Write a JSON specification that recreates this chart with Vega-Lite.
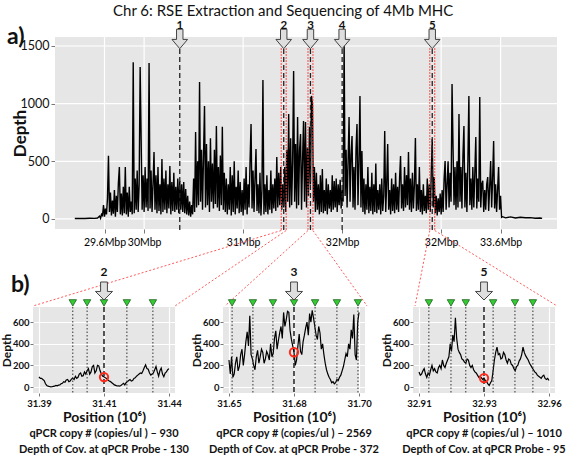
{
"$schema": "https://vega.github.io/schema/vega-lite/v6.json",
"background": "white",
"padding": {"left": 0, "top": 4, "right": 0, "bottom": 0},
"title": {"text": "Chr 6: RSE Extraction and Sequencing of 4Mb MHC", "font": "Lato", "fontSize": 15, "fontWeight": "normal", "color": "#111", "anchor": "middle", "offset": 1},
"config": {
  "view": {"fill": "#E6E6E6", "stroke": null},
  "axis": {"domain": false, "gridColor": "#FFFFFF", "gridWidth": 1.2, "tickColor": "#777", "labelColor": "#111", "titleColor": "#111", "labelFont": "Lato", "titleFont": "Lato", "labelFlush": false, "labelOverlap": false}
},
"spacing": -48,
"datasets": {
"top": [
{"pos":29.3,"depth":4},{"pos":29.35,"depth":5},{"pos":29.4,"depth":4},{"pos":29.45,"depth":6},{"pos":29.5,"depth":5},{"pos":29.53,"depth":8},{"pos":29.55,"depth":25},{"pos":29.56,"depth":6},{"pos":29.57,"depth":40},
{"pos":29.58,"depth":30},{"pos":29.59,"depth":120},{"pos":29.6,"depth":20},{"pos":29.61,"depth":90},{"pos":29.62,"depth":40},{"pos":29.63,"depth":180},{"pos":29.64,"depth":549},{"pos":29.65,"depth":60},{"pos":29.66,"depth":230},{"pos":29.67,"depth":30},
{"pos":29.68,"depth":160},{"pos":29.69,"depth":45},{"pos":29.7,"depth":250},{"pos":29.71,"depth":20},{"pos":29.72,"depth":200},{"pos":29.73,"depth":60},{"pos":29.74,"depth":310},{"pos":29.75,"depth":450},{"pos":29.76,"depth":40},{"pos":29.77,"depth":220},
{"pos":29.78,"depth":30},{"pos":29.79,"depth":280},{"pos":29.8,"depth":50},{"pos":29.81,"depth":450},{"pos":29.82,"depth":40},{"pos":29.83,"depth":230},{"pos":29.84,"depth":20},{"pos":29.85,"depth":280},{"pos":29.86,"depth":60},{"pos":29.87,"depth":150},
{"pos":29.88,"depth":40},{"pos":29.89,"depth":1360},{"pos":29.9,"depth":50},{"pos":29.91,"depth":350},{"pos":29.92,"depth":80},{"pos":29.93,"depth":420},{"pos":29.94,"depth":60},{"pos":29.95,"depth":300},{"pos":29.96,"depth":1318},{"pos":29.97,"depth":694},
{"pos":29.98,"depth":80},{"pos":29.99,"depth":380},{"pos":30.0,"depth":60},{"pos":30.01,"depth":450},{"pos":30.02,"depth":100},{"pos":30.03,"depth":350},{"pos":30.04,"depth":70},{"pos":30.05,"depth":1353},{"pos":30.06,"depth":90},{"pos":30.07,"depth":420},
{"pos":30.08,"depth":60},{"pos":30.09,"depth":300},{"pos":30.1,"depth":581},{"pos":30.11,"depth":80},{"pos":30.12,"depth":380},{"pos":30.13,"depth":50},{"pos":30.14,"depth":450},{"pos":30.15,"depth":70},{"pos":30.16,"depth":300},{"pos":30.17,"depth":40},
{"pos":30.18,"depth":520},{"pos":30.19,"depth":60},{"pos":30.2,"depth":350},{"pos":30.21,"depth":80},{"pos":30.22,"depth":420},{"pos":30.23,"depth":50},{"pos":30.24,"depth":300},{"pos":30.25,"depth":90},{"pos":30.26,"depth":460},{"pos":30.27,"depth":40},
{"pos":30.28,"depth":320},{"pos":30.29,"depth":70},{"pos":30.3,"depth":400},{"pos":30.31,"depth":60},{"pos":30.32,"depth":280},{"pos":30.33,"depth":80},{"pos":30.34,"depth":350},{"pos":30.35,"depth":50},{"pos":30.36,"depth":330},{"pos":30.37,"depth":80},
{"pos":30.38,"depth":300},{"pos":30.39,"depth":60},{"pos":30.4,"depth":320},{"pos":30.41,"depth":50},{"pos":30.42,"depth":260},{"pos":30.43,"depth":40},{"pos":30.44,"depth":200},{"pos":30.45,"depth":30},{"pos":30.46,"depth":150},{"pos":30.47,"depth":20},
{"pos":30.48,"depth":120},{"pos":30.49,"depth":40},{"pos":30.5,"depth":350},{"pos":30.51,"depth":60},{"pos":30.52,"depth":755},{"pos":30.53,"depth":100},{"pos":30.54,"depth":500},{"pos":30.55,"depth":120},{"pos":30.56,"depth":1188},{"pos":30.57,"depth":150},
{"pos":30.58,"depth":600},{"pos":30.59,"depth":80},{"pos":30.6,"depth":550},{"pos":30.61,"depth":980},{"pos":30.62,"depth":100},{"pos":30.63,"depth":650},{"pos":30.64,"depth":120},{"pos":30.65,"depth":500},{"pos":30.66,"depth":60},{"pos":30.67,"depth":700},
{"pos":30.68,"depth":150},{"pos":30.69,"depth":480},{"pos":30.7,"depth":90},{"pos":30.71,"depth":600},{"pos":30.72,"depth":130},{"pos":30.73,"depth":807},{"pos":30.74,"depth":100},{"pos":30.75,"depth":450},{"pos":30.76,"depth":70},{"pos":30.77,"depth":550},
{"pos":30.78,"depth":120},{"pos":30.79,"depth":800},{"pos":30.8,"depth":80},{"pos":30.81,"depth":400},{"pos":30.82,"depth":60},{"pos":30.83,"depth":350},{"pos":30.84,"depth":40},{"pos":30.85,"depth":300},{"pos":30.86,"depth":80},{"pos":30.87,"depth":450},
{"pos":30.88,"depth":30},{"pos":30.89,"depth":380},{"pos":30.9,"depth":60},{"pos":30.91,"depth":500},{"pos":30.92,"depth":40},{"pos":30.93,"depth":280},{"pos":30.94,"depth":90},{"pos":30.95,"depth":420},{"pos":30.96,"depth":50},{"pos":30.97,"depth":320},
{"pos":30.98,"depth":60},{"pos":30.99,"depth":250},{"pos":31.0,"depth":30},{"pos":31.01,"depth":350},{"pos":31.02,"depth":80},{"pos":31.03,"depth":450},{"pos":31.04,"depth":40},{"pos":31.05,"depth":300},{"pos":31.06,"depth":100},{"pos":31.07,"depth":500},
{"pos":31.08,"depth":824},{"pos":31.09,"depth":90},{"pos":31.1,"depth":420},{"pos":31.11,"depth":60},{"pos":31.12,"depth":350},{"pos":31.13,"depth":607},{"pos":31.14,"depth":70},{"pos":31.15,"depth":300},{"pos":31.16,"depth":50},{"pos":31.17,"depth":400},
{"pos":31.18,"depth":30},{"pos":31.19,"depth":250},{"pos":31.2,"depth":1205},{"pos":31.21,"depth":40},{"pos":31.22,"depth":300},{"pos":31.23,"depth":60},{"pos":31.24,"depth":380},{"pos":31.25,"depth":40},{"pos":31.26,"depth":250},{"pos":31.27,"depth":80},
{"pos":31.28,"depth":420},{"pos":31.29,"depth":50},{"pos":31.3,"depth":300},{"pos":31.31,"depth":90},{"pos":31.32,"depth":350},{"pos":31.33,"depth":70},{"pos":31.34,"depth":538},{"pos":31.35,"depth":100},{"pos":31.36,"depth":400},{"pos":31.37,"depth":120},
{"pos":31.38,"depth":450},{"pos":31.39,"depth":80},{"pos":31.4,"depth":300},{"pos":31.41,"depth":100},{"pos":31.42,"depth":450},{"pos":31.43,"depth":60},{"pos":31.44,"depth":600},{"pos":31.45,"depth":150},{"pos":31.46,"depth":910},{"pos":31.47,"depth":100},
{"pos":31.48,"depth":700},{"pos":31.49,"depth":120},{"pos":31.5,"depth":500},{"pos":31.51,"depth":1284},{"pos":31.52,"depth":150},{"pos":31.53,"depth":650},{"pos":31.54,"depth":90},{"pos":31.55,"depth":884},{"pos":31.56,"depth":120},{"pos":31.57,"depth":600},
{"pos":31.58,"depth":737},{"pos":31.59,"depth":80},{"pos":31.6,"depth":500},{"pos":31.61,"depth":850},{"pos":31.62,"depth":150},{"pos":31.63,"depth":841},{"pos":31.64,"depth":100},{"pos":31.65,"depth":620},{"pos":31.66,"depth":200},{"pos":31.67,"depth":800},
{"pos":31.68,"depth":300},{"pos":31.69,"depth":1067},{"pos":31.7,"depth":1000},{"pos":31.71,"depth":150},{"pos":31.72,"depth":450},{"pos":31.73,"depth":60},{"pos":31.74,"depth":400},{"pos":31.75,"depth":80},{"pos":31.76,"depth":300},{"pos":31.77,"depth":40},
{"pos":31.78,"depth":380},{"pos":31.79,"depth":60},{"pos":31.8,"depth":434},{"pos":31.81,"depth":50},{"pos":31.82,"depth":250},{"pos":31.83,"depth":70},{"pos":31.84,"depth":350},{"pos":31.85,"depth":40},{"pos":31.86,"depth":300},{"pos":31.87,"depth":90},
{"pos":31.88,"depth":250},{"pos":31.89,"depth":60},{"pos":31.9,"depth":380},{"pos":31.91,"depth":80},{"pos":31.92,"depth":330},{"pos":31.93,"depth":100},{"pos":31.94,"depth":350},{"pos":31.95,"depth":60},{"pos":31.96,"depth":300},{"pos":31.97,"depth":120},
{"pos":31.98,"depth":340},{"pos":31.99,"depth":90},{"pos":32.0,"depth":250},{"pos":32.01,"depth":150},{"pos":32.02,"depth":1544},{"pos":32.03,"depth":200},{"pos":32.04,"depth":600},{"pos":32.05,"depth":100},{"pos":32.06,"depth":500},{"pos":32.07,"depth":884},
{"pos":32.08,"depth":150},{"pos":32.09,"depth":550},{"pos":32.1,"depth":720},{"pos":32.11,"depth":100},{"pos":32.12,"depth":450},{"pos":32.13,"depth":80},{"pos":32.14,"depth":600},{"pos":32.15,"depth":824},{"pos":32.16,"depth":120},{"pos":32.17,"depth":500},
{"pos":32.18,"depth":1067},{"pos":32.19,"depth":100},{"pos":32.2,"depth":590},{"pos":32.21,"depth":60},{"pos":32.22,"depth":350},{"pos":32.23,"depth":40},{"pos":32.24,"depth":300},{"pos":32.25,"depth":80},{"pos":32.26,"depth":450},{"pos":32.27,"depth":50},
{"pos":32.28,"depth":280},{"pos":32.29,"depth":70},{"pos":32.3,"depth":400},{"pos":32.31,"depth":40},{"pos":32.32,"depth":300},{"pos":32.33,"depth":60},{"pos":32.34,"depth":480},{"pos":32.35,"depth":50},{"pos":32.36,"depth":250},{"pos":32.37,"depth":80},
{"pos":32.38,"depth":300},{"pos":32.39,"depth":40},{"pos":32.4,"depth":350},{"pos":32.41,"depth":70},{"pos":32.42,"depth":200},{"pos":32.43,"depth":763},{"pos":32.44,"depth":60},{"pos":32.45,"depth":300},{"pos":32.46,"depth":650},{"pos":32.47,"depth":80},
{"pos":32.48,"depth":250},{"pos":32.49,"depth":40},{"pos":32.5,"depth":350},{"pos":32.51,"depth":70},{"pos":32.52,"depth":300},{"pos":32.53,"depth":50},{"pos":32.54,"depth":400},{"pos":32.55,"depth":80},{"pos":32.56,"depth":280},{"pos":32.57,"depth":60},
{"pos":32.58,"depth":350},{"pos":32.59,"depth":546},{"pos":32.6,"depth":90},{"pos":32.61,"depth":300},{"pos":32.62,"depth":70},{"pos":32.63,"depth":450},{"pos":32.64,"depth":100},{"pos":32.65,"depth":380},{"pos":32.66,"depth":120},{"pos":32.67,"depth":581},
{"pos":32.68,"depth":80},{"pos":32.69,"depth":350},{"pos":32.7,"depth":60},{"pos":32.71,"depth":400},{"pos":32.72,"depth":90},{"pos":32.73,"depth":300},{"pos":32.74,"depth":702},{"pos":32.75,"depth":70},{"pos":32.76,"depth":300},{"pos":32.77,"depth":80},
{"pos":32.78,"depth":451},{"pos":32.79,"depth":60},{"pos":32.8,"depth":250},{"pos":32.81,"depth":40},{"pos":32.82,"depth":300},{"pos":32.83,"depth":70},{"pos":32.84,"depth":200},{"pos":32.85,"depth":50},{"pos":32.86,"depth":350},{"pos":32.87,"depth":80},
{"pos":32.88,"depth":300},{"pos":32.89,"depth":60},{"pos":32.9,"depth":400},{"pos":32.91,"depth":694},{"pos":32.92,"depth":100},{"pos":32.93,"depth":364},{"pos":32.94,"depth":50},{"pos":32.95,"depth":200},{"pos":32.96,"depth":30},{"pos":32.97,"depth":180},
{"pos":32.98,"depth":60},{"pos":32.99,"depth":220},{"pos":33.0,"depth":40},{"pos":33.01,"depth":250},{"pos":33.02,"depth":60},{"pos":33.03,"depth":350},{"pos":33.04,"depth":503},{"pos":33.05,"depth":80},{"pos":33.06,"depth":300},{"pos":33.07,"depth":500},
{"pos":33.08,"depth":100},{"pos":33.09,"depth":400},{"pos":33.1,"depth":150},{"pos":33.11,"depth":1171},{"pos":33.12,"depth":624},{"pos":33.13,"depth":120},{"pos":33.14,"depth":450},{"pos":33.15,"depth":80},{"pos":33.16,"depth":500},{"pos":33.17,"depth":100},
{"pos":33.18,"depth":910},{"pos":33.19,"depth":150},{"pos":33.2,"depth":450},{"pos":33.21,"depth":90},{"pos":33.22,"depth":550},{"pos":33.23,"depth":807},{"pos":33.24,"depth":100},{"pos":33.25,"depth":400},{"pos":33.26,"depth":60},{"pos":33.27,"depth":500},
{"pos":33.28,"depth":1067},{"pos":33.29,"depth":120},{"pos":33.3,"depth":350},{"pos":33.31,"depth":80},{"pos":33.32,"depth":451},{"pos":33.33,"depth":100},{"pos":33.34,"depth":400},{"pos":33.35,"depth":711},{"pos":33.36,"depth":90},{"pos":33.37,"depth":350},
{"pos":33.38,"depth":150},{"pos":33.39,"depth":1058},{"pos":33.4,"depth":100},{"pos":33.41,"depth":300},{"pos":33.42,"depth":332},{"pos":33.43,"depth":60},{"pos":33.44,"depth":250},{"pos":33.45,"depth":80},{"pos":33.46,"depth":300},{"pos":33.47,"depth":364},
{"pos":33.48,"depth":70},{"pos":33.49,"depth":280},{"pos":33.5,"depth":503},{"pos":33.51,"depth":100},{"pos":33.52,"depth":350},{"pos":33.53,"depth":677},{"pos":33.54,"depth":90},{"pos":33.55,"depth":300},{"pos":33.56,"depth":60},{"pos":33.57,"depth":250},
{"pos":33.58,"depth":451},{"pos":33.59,"depth":80},{"pos":33.6,"depth":200},{"pos":33.61,"depth":15},{"pos":33.62,"depth":20},{"pos":33.65,"depth":10},{"pos":33.7,"depth":18},{"pos":33.75,"depth":8},{"pos":33.8,"depth":15},{"pos":33.85,"depth":10},{"pos":33.9,"depth":12},{"pos":33.95,"depth":6},{"pos":34.0,"depth":8},{"pos":34.02,"depth":5}
],
"p2": [
{"pos":31.385,"depth":95},{"pos":31.3855,"depth":80},{"pos":31.386,"depth":80},{"pos":31.3865,"depth":70},{"pos":31.387,"depth":60},{"pos":31.3875,"depth":30},{"pos":31.388,"depth":15},{"pos":31.3885,"depth":8},{"pos":31.389,"depth":5},{"pos":31.3895,"depth":2},
{"pos":31.39,"depth":3},{"pos":31.3905,"depth":6},{"pos":31.391,"depth":8},{"pos":31.3915,"depth":15},{"pos":31.392,"depth":12},{"pos":31.3925,"depth":18},{"pos":31.393,"depth":20},{"pos":31.3935,"depth":30},{"pos":31.394,"depth":35},{"pos":31.3945,"depth":50},
{"pos":31.395,"depth":45},{"pos":31.3955,"depth":65},{"pos":31.396,"depth":70},{"pos":31.3965,"depth":50},{"pos":31.397,"depth":55},{"pos":31.3975,"depth":75},{"pos":31.398,"depth":80},{"pos":31.3985,"depth":70},{"pos":31.399,"depth":100},{"pos":31.3995,"depth":80},
{"pos":31.4,"depth":90},{"pos":31.4005,"depth":120},{"pos":31.401,"depth":130},{"pos":31.4015,"depth":100},{"pos":31.402,"depth":105},{"pos":31.4025,"depth":140},{"pos":31.403,"depth":120},{"pos":31.4035,"depth":150},{"pos":31.404,"depth":170},{"pos":31.4045,"depth":120},
{"pos":31.405,"depth":140},{"pos":31.4055,"depth":190},{"pos":31.406,"depth":200},{"pos":31.4065,"depth":130},{"pos":31.407,"depth":150},{"pos":31.4075,"depth":200},{"pos":31.408,"depth":195},{"pos":31.4085,"depth":150},{"pos":31.409,"depth":120},{"pos":31.4095,"depth":100},
{"pos":31.41,"depth":95},{"pos":31.4105,"depth":85},{"pos":31.411,"depth":80},{"pos":31.4115,"depth":65},{"pos":31.412,"depth":55},{"pos":31.4125,"depth":50},{"pos":31.413,"depth":40},{"pos":31.4135,"depth":30},{"pos":31.414,"depth":20},{"pos":31.4145,"depth":15},
{"pos":31.415,"depth":10},{"pos":31.4155,"depth":12},{"pos":31.416,"depth":8},{"pos":31.4165,"depth":15},{"pos":31.417,"depth":25},{"pos":31.4175,"depth":35},{"pos":31.418,"depth":20},{"pos":31.4185,"depth":40},{"pos":31.419,"depth":50},{"pos":31.4195,"depth":60},
{"pos":31.42,"depth":70},{"pos":31.4205,"depth":55},{"pos":31.421,"depth":60},{"pos":31.4215,"depth":80},{"pos":31.422,"depth":85},{"pos":31.4225,"depth":100},{"pos":31.423,"depth":110},{"pos":31.4235,"depth":120},{"pos":31.424,"depth":130},{"pos":31.4245,"depth":125},
{"pos":31.425,"depth":150},{"pos":31.4255,"depth":180},{"pos":31.426,"depth":205},{"pos":31.4265,"depth":170},{"pos":31.427,"depth":165},{"pos":31.4275,"depth":130},{"pos":31.428,"depth":110},{"pos":31.4285,"depth":120},{"pos":31.429,"depth":130},{"pos":31.4295,"depth":160},
{"pos":31.43,"depth":190},{"pos":31.4305,"depth":140},{"pos":31.431,"depth":100},{"pos":31.4315,"depth":150},{"pos":31.432,"depth":175},{"pos":31.4325,"depth":120},{"pos":31.433,"depth":95},{"pos":31.4335,"depth":130},{"pos":31.434,"depth":140},{"pos":31.4345,"depth":160},{"pos":31.435,"depth":170}
],
"p3": [
{"pos":31.655,"depth":250},{"pos":31.6555,"depth":120},{"pos":31.656,"depth":280},{"pos":31.6565,"depth":90},{"pos":31.657,"depth":120},{"pos":31.6575,"depth":220},{"pos":31.658,"depth":280},{"pos":31.6585,"depth":150},{"pos":31.659,"depth":190},{"pos":31.6595,"depth":300},
{"pos":31.66,"depth":350},{"pos":31.6605,"depth":200},{"pos":31.661,"depth":300},{"pos":31.6615,"depth":420},{"pos":31.662,"depth":510},{"pos":31.6625,"depth":380},{"pos":31.663,"depth":660},{"pos":31.6635,"depth":300},{"pos":31.664,"depth":260},{"pos":31.6645,"depth":200},
{"pos":31.665,"depth":160},{"pos":31.6655,"depth":280},{"pos":31.666,"depth":340},{"pos":31.6665,"depth":220},{"pos":31.667,"depth":280},{"pos":31.6675,"depth":350},{"pos":31.668,"depth":320},{"pos":31.6685,"depth":220},{"pos":31.669,"depth":260},{"pos":31.6695,"depth":330},
{"pos":31.67,"depth":300},{"pos":31.6705,"depth":250},{"pos":31.671,"depth":400},{"pos":31.6715,"depth":280},{"pos":31.672,"depth":310},{"pos":31.6725,"depth":450},{"pos":31.673,"depth":520},{"pos":31.6735,"depth":350},{"pos":31.674,"depth":430},{"pos":31.6745,"depth":500},
{"pos":31.675,"depth":560},{"pos":31.6755,"depth":450},{"pos":31.676,"depth":690},{"pos":31.6765,"depth":560},{"pos":31.677,"depth":620},{"pos":31.6775,"depth":700},{"pos":31.678,"depth":690},{"pos":31.6785,"depth":520},{"pos":31.679,"depth":440},{"pos":31.6795,"depth":380},
{"pos":31.68,"depth":320},{"pos":31.6805,"depth":200},{"pos":31.681,"depth":250},{"pos":31.6815,"depth":380},{"pos":31.682,"depth":490},{"pos":31.6825,"depth":330},{"pos":31.683,"depth":300},{"pos":31.6835,"depth":420},{"pos":31.684,"depth":480},{"pos":31.6845,"depth":550},
{"pos":31.685,"depth":600},{"pos":31.6855,"depth":480},{"pos":31.686,"depth":680},{"pos":31.6865,"depth":600},{"pos":31.687,"depth":710},{"pos":31.6875,"depth":640},{"pos":31.688,"depth":560},{"pos":31.6885,"depth":480},{"pos":31.689,"depth":440},{"pos":31.6895,"depth":560},
{"pos":31.69,"depth":500},{"pos":31.6905,"depth":350},{"pos":31.691,"depth":400},{"pos":31.6915,"depth":300},{"pos":31.692,"depth":220},{"pos":31.6925,"depth":160},{"pos":31.693,"depth":120},{"pos":31.6935,"depth":90},{"pos":31.694,"depth":70},{"pos":31.6945,"depth":40},
{"pos":31.695,"depth":50},{"pos":31.6955,"depth":30},{"pos":31.696,"depth":40},{"pos":31.6965,"depth":70},{"pos":31.697,"depth":60},{"pos":31.6975,"depth":90},{"pos":31.698,"depth":110},{"pos":31.6985,"depth":150},{"pos":31.699,"depth":190},{"pos":31.6995,"depth":250},
{"pos":31.7,"depth":310},{"pos":31.7005,"depth":280},{"pos":31.701,"depth":400},{"pos":31.7015,"depth":350},{"pos":31.702,"depth":530},{"pos":31.7025,"depth":450},{"pos":31.703,"depth":670},{"pos":31.7035,"depth":300},{"pos":31.704,"depth":250},{"pos":31.7045,"depth":600},{"pos":31.705,"depth":690}
],
"p5": [
{"pos":32.905,"depth":140},{"pos":32.9055,"depth":110},{"pos":32.906,"depth":120},{"pos":32.9065,"depth":150},{"pos":32.907,"depth":170},{"pos":32.9075,"depth":120},{"pos":32.908,"depth":90},{"pos":32.9085,"depth":130},{"pos":32.909,"depth":110},{"pos":32.9095,"depth":160},
{"pos":32.91,"depth":200},{"pos":32.9105,"depth":150},{"pos":32.911,"depth":170},{"pos":32.9115,"depth":140},{"pos":32.912,"depth":130},{"pos":32.9125,"depth":180},{"pos":32.913,"depth":200},{"pos":32.9135,"depth":170},{"pos":32.914,"depth":250},{"pos":32.9145,"depth":200},
{"pos":32.915,"depth":180},{"pos":32.9155,"depth":220},{"pos":32.916,"depth":250},{"pos":32.9165,"depth":280},{"pos":32.917,"depth":400},{"pos":32.9175,"depth":330},{"pos":32.918,"depth":480},{"pos":32.9185,"depth":420},{"pos":32.919,"depth":640},{"pos":32.9195,"depth":450},
{"pos":32.92,"depth":350},{"pos":32.9205,"depth":320},{"pos":32.921,"depth":300},{"pos":32.9215,"depth":260},{"pos":32.922,"depth":250},{"pos":32.9225,"depth":230},{"pos":32.923,"depth":220},{"pos":32.9235,"depth":260},{"pos":32.924,"depth":250},{"pos":32.9245,"depth":200},
{"pos":32.925,"depth":180},{"pos":32.9255,"depth":200},{"pos":32.926,"depth":160},{"pos":32.9265,"depth":140},{"pos":32.927,"depth":130},{"pos":32.9275,"depth":110},{"pos":32.928,"depth":90},{"pos":32.9285,"depth":100},{"pos":32.929,"depth":85},{"pos":32.9295,"depth":70},
{"pos":32.93,"depth":83},{"pos":32.9305,"depth":60},{"pos":32.931,"depth":50},{"pos":32.9315,"depth":30},{"pos":32.932,"depth":15},{"pos":32.9325,"depth":40},{"pos":32.933,"depth":60},{"pos":32.9335,"depth":150},{"pos":32.934,"depth":250},{"pos":32.9345,"depth":320},
{"pos":32.935,"depth":370},{"pos":32.9355,"depth":300},{"pos":32.936,"depth":310},{"pos":32.9365,"depth":260},{"pos":32.937,"depth":270},{"pos":32.9375,"depth":320},{"pos":32.938,"depth":300},{"pos":32.9385,"depth":250},{"pos":32.939,"depth":220},{"pos":32.9395,"depth":260},
{"pos":32.94,"depth":250},{"pos":32.9405,"depth":210},{"pos":32.941,"depth":200},{"pos":32.9415,"depth":170},{"pos":32.942,"depth":150},{"pos":32.9425,"depth":190},{"pos":32.943,"depth":200},{"pos":32.9435,"depth":240},{"pos":32.944,"depth":260},{"pos":32.9445,"depth":300},
{"pos":32.945,"depth":370},{"pos":32.9455,"depth":320},{"pos":32.946,"depth":290},{"pos":32.9465,"depth":270},{"pos":32.947,"depth":250},{"pos":32.9475,"depth":220},{"pos":32.948,"depth":200},{"pos":32.9485,"depth":180},{"pos":32.949,"depth":160},{"pos":32.9495,"depth":140},
{"pos":32.95,"depth":130},{"pos":32.9505,"depth":110},{"pos":32.951,"depth":100},{"pos":32.9515,"depth":90},{"pos":32.952,"depth":80},{"pos":32.9525,"depth":100},{"pos":32.953,"depth":110},{"pos":32.9535,"depth":80},{"pos":32.954,"depth":70},{"pos":32.9545,"depth":80},{"pos":32.955,"depth":60}
]
},
"vconcat": [
{
  "width": 524, "height": 192,
  "view": {"fill": null, "stroke": null},
  "layer": [
    {"data": {"values": [{"k": 1}]},
     "mark": {"type": "rect", "color": "#E6E6E6"},
     "encoding": {
       "x": {"datum": 29.1, "type": "quantitative", "scale": {"domain": [28.8778, 34.17], "nice": false, "zero": false}},
       "x2": {"datum": 34.17},
       "y": {"datum": -87, "type": "quantitative", "scale": {"domain": [-87, 1578], "nice": false, "zero": false}},
       "y2": {"datum": 1578}}},
    {"data": {"values": [{"depth": 0}, {"depth": 500}, {"depth": 1000}, {"depth": 1500}]},
     "mark": {"type": "rule", "color": "white", "strokeWidth": 1.2},
     "encoding": {
       "x": {"datum": 29.1, "type": "quantitative", "scale": {"domain": [28.8778, 34.17], "nice": false, "zero": false}},
       "x2": {"datum": 34.17},
       "y": {"field": "depth", "type": "quantitative", "scale": {"domain": [-87, 1578], "nice": false, "zero": false}}}},
    {"data": {"values": [{"pos": 29.6}, {"pos": 30}, {"pos": 31}, {"pos": 32}, {"pos": 33}, {"pos": 33.6}]},
     "mark": {"type": "rule", "color": "white", "strokeWidth": 1.2},
     "encoding": {
       "x": {"field": "pos", "type": "quantitative", "scale": {"domain": [28.8778, 34.17], "nice": false, "zero": false}},
       "y": {"datum": -87, "type": "quantitative", "scale": {"domain": [-87, 1578], "nice": false, "zero": false}},
       "y2": {"datum": 1578}}},
    {"data": {"name": "top"}, "mark": {"type": "line", "color": "black", "strokeWidth": 1.4},
     "encoding": {
       "x": {"field": "pos", "type": "quantitative", "scale": {"domain": [28.8778, 34.17], "nice": false, "zero": false},
         "axis": {"title": null, "grid": false, "values": [29.6, 30, 31, 32, 33, 33.6], "labelExpr": "datum.value == 33 ? '32Mbp' : format(datum.value, '~g') + 'Mbp'", "labelFontSize": 10.5, "labelColor": "#000", "tickSize": 4, "labelPadding": 4}},
       "y": {"field": "depth", "type": "quantitative", "scale": {"domain": [-87, 1578], "nice": false, "zero": false},
         "axis": {"title": "Depth", "grid": false, "offset": -22, "format": "d", "values": [0, 500, 1000, 1500], "labelFontSize": 12.5, "titleFontSize": 17, "titleFontWeight": "bold", "tickSize": 4, "labelPadding": 2, "titlePadding": -9}}}},
    {"data": {"values": [{"pos": 31.385}, {"pos": 31.435}, {"pos": 31.655}, {"pos": 31.705}, {"pos": 32.885}, {"pos": 32.935}]},
     "mark": {"type": "rule", "color": "#ff3b3b", "strokeDash": [1.5, 1.5], "strokeWidth": 1.2},
     "encoding": {
       "x": {"field": "pos", "type": "quantitative", "scale": {"domain": [28.8778, 34.17], "nice": false, "zero": false}},
       "y": {"datum": 1480, "type": "quantitative", "scale": {"domain": [-87, 1578], "nice": false, "zero": false}},
       "y2": {"datum": -100}}},
    {"data": {"values": [{"pos": 30.36}, {"pos": 31.41}, {"pos": 31.68}, {"pos": 32.0}, {"pos": 32.91}]},
     "mark": {"type": "rule", "color": "#222", "strokeDash": [5, 3], "strokeWidth": 1.3},
     "encoding": {
       "x": {"field": "pos", "type": "quantitative", "scale": {"domain": [28.8778, 34.17], "nice": false, "zero": false}},
       "y": {"datum": 1474, "type": "quantitative", "scale": {"domain": [-87, 1578], "nice": false, "zero": false}},
       "y2": {"datum": -100}}},
    {"data": {"values": [{"pos": 31.385, "pos2": 28.878}, {"pos": 31.435, "pos2": 30.312}, {"pos": 31.655, "pos2": 30.817}, {"pos": 31.705, "pos2": 32.252}, {"pos": 32.885, "pos2": 32.736}, {"pos": 32.935, "pos2": 34.171}]},
     "mark": {"type": "rule", "color": "#ff5a5a", "strokeDash": [2, 2], "strokeWidth": 1},
     "encoding": {
       "x": {"field": "pos", "type": "quantitative", "scale": {"domain": [28.8778, 34.17], "nice": false, "zero": false}},
       "x2": {"field": "pos2"},
       "y": {"datum": -100, "type": "quantitative", "scale": {"domain": [-87, 1578], "nice": false, "zero": false}},
       "y2": {"datum": -754.5}}},
    {"data": {"values": [{"pos": 30.36}, {"pos": 31.41}, {"pos": 31.68}, {"pos": 32.0}, {"pos": 32.91}]},
     "mark": {"type": "point", "shape": "M -0.33 -1 L 0.33 -1 L 0.33 0.05 L 0.8 0.05 L 0 1 L -0.8 0.05 L -0.33 0.05 Z", "size": 380, "filled": true, "fill": "#dedede", "stroke": "#444", "strokeWidth": 1, "opacity": 1},
     "encoding": {
       "x": {"field": "pos", "type": "quantitative", "scale": {"domain": [28.8778, 34.17], "nice": false, "zero": false}},
       "y": {"datum": 1561, "type": "quantitative", "scale": {"domain": [-87, 1578], "nice": false, "zero": false}}}},
    {"data": {"values": [{"pos": 30.36, "label": "1"}, {"pos": 31.41, "label": "2"}, {"pos": 31.68, "label": "3"}, {"pos": 32.0, "label": "4"}, {"pos": 32.91, "label": "5"}]},
     "mark": {"type": "text", "font": "Lato", "fontSize": 11.5, "fontWeight": "bold", "color": "#111"},
     "encoding": {
       "x": {"field": "pos", "type": "quantitative", "scale": {"domain": [28.8778, 34.17], "nice": false, "zero": false}},
       "y": {"datum": 1673, "type": "quantitative", "scale": {"domain": [-87, 1578], "nice": false, "zero": false}},
       "text": {"field": "label"}}},
    {"data": {"values": [{"pos": 28.615, "label": "a)"}]},
     "mark": {"type": "text", "font": "Lato", "fontSize": 23, "fontWeight": "bold", "color": "#111", "align": "left", "baseline": "middle"},
     "encoding": {
       "x": {"field": "pos", "type": "quantitative", "scale": {"domain": [28.8778, 34.17], "nice": false, "zero": false}},
       "y": {"datum": 1578, "type": "quantitative", "scale": {"domain": [-87, 1578], "nice": false, "zero": false}},
       "text": {"field": "label"}}}
  ]
},
{
  "hconcat": [
  {
    "width": 142, "height": 86,
    "title": {"text": "qPCR copy # (copies/ul ) – 930", "subtitle": "Depth of Cov. at qPCR Probe - 130", "orient": "bottom", "anchor": "middle", "font": "Lato", "fontSize": 11, "fontWeight": "bold", "color": "#111", "subtitleFont": "Lato", "subtitleFontSize": 11, "subtitleFontWeight": "bold", "subtitleColor": "#111", "subtitlePadding": 5, "offset": 3},
    "layer": [
      {"data": {"name": "p2"}, "mark": {"type": "line", "color": "black", "strokeWidth": 1.2},
       "encoding": {
         "x": {"field": "pos", "type": "quantitative", "scale": {"domain": [31.3827, 31.4373], "nice": false, "zero": false},
           "axis": {"title": "Position (10⁶)", "values": [31.385, 31.41, 31.435], "labelExpr": "datum.value < 31.4 ? '31.39' : datum.value > 31.42 ? '31.44' : '31.41'", "labelFontSize": 9.5, "labelFontWeight": "bold", "titleFontSize": 14, "titleFontWeight": "bold", "tickSize": 3, "labelPadding": 2, "titlePadding": 3}},
         "y": {"field": "depth", "type": "quantitative", "scale": {"domain": [-55, 740], "nice": false, "zero": false},
           "axis": {"title": "Depth", "values": [0, 200, 400, 600], "labelOverlap": false, "labelFontSize": 9.5, "labelFontWeight": "bold", "titleFontSize": 12, "titleFontWeight": "bold", "tickSize": 3, "labelPadding": 1, "titlePadding": -1}}}},
      {"data": {"values": [{"pos": 31.398}, {"pos": 31.4035}, {"pos": 31.4188}, {"pos": 31.4288}]}, "mark": {"type": "rule", "color": "#333", "strokeDash": [1.5, 2], "strokeWidth": 1},
       "encoding": {"x": {"field": "pos", "type": "quantitative", "scale": {"domain": [31.3827, 31.4373], "nice": false, "zero": false}}}},
      {"data": {"values": [{"pos": 31.41}]}, "mark": {"type": "rule", "color": "#111", "strokeDash": [5, 3], "strokeWidth": 1.4},
       "encoding": {"x": {"field": "pos", "type": "quantitative", "scale": {"domain": [31.3827, 31.4373], "nice": false, "zero": false}}}},
      {"data": {"values": [{"pos": 31.41, "depth": 92}]}, "mark": {"type": "point", "shape": "circle", "size": 70, "color": "#ff2a1a", "strokeWidth": 2, "filled": false, "opacity": 1},
       "encoding": {
         "x": {"field": "pos", "type": "quantitative", "scale": {"domain": [31.3827, 31.4373], "nice": false, "zero": false}},
         "y": {"field": "depth", "type": "quantitative", "scale": {"domain": [-55, 740], "nice": false, "zero": false},
           "axis": {"title": "Depth", "values": [0, 200, 400, 600], "labelOverlap": false, "labelFontSize": 9.5, "labelFontWeight": "bold", "titleFontSize": 12, "titleFontWeight": "bold", "tickSize": 3, "labelPadding": 1, "titlePadding": -1}}}},
      {"data": {"values": [{"pos": 31.398}, {"pos": 31.4035}, {"pos": 31.41}, {"pos": 31.4188}, {"pos": 31.4288}]}, "mark": {"type": "point", "shape": "triangle-down", "size": 55, "filled": true, "fill": "#33cc33", "stroke": "#1d5e1d", "strokeWidth": 0.8, "opacity": 1},
       "encoding": {
         "x": {"field": "pos", "type": "quantitative", "scale": {"domain": [31.3827, 31.4373], "nice": false, "zero": false}},
         "y": {"datum": 778, "type": "quantitative", "scale": {"domain": [-55, 740], "nice": false, "zero": false},
           "axis": {"title": "Depth", "values": [0, 200, 400, 600], "labelOverlap": false, "labelFontSize": 9.5, "labelFontWeight": "bold", "titleFontSize": 12, "titleFontWeight": "bold", "tickSize": 3, "labelPadding": 1, "titlePadding": -1}}}},
      {"data": {"values": [{"pos": 31.41}]}, "mark": {"type": "point", "shape": "M -0.38 -1 L 0.38 -1 L 0.38 0.05 L 0.95 0.05 L 0 1 L -0.95 0.05 L -0.38 0.05 Z", "size": 324, "filled": true, "fill": "#dedede", "stroke": "#444", "strokeWidth": 1, "opacity": 1},
       "encoding": {
         "x": {"field": "pos", "type": "quantitative", "scale": {"domain": [31.3827, 31.4373], "nice": false, "zero": false}},
         "y": {"datum": 888, "type": "quantitative", "scale": {"domain": [-55, 740], "nice": false, "zero": false},
           "axis": {"title": "Depth", "values": [0, 200, 400, 600], "labelOverlap": false, "labelFontSize": 9.5, "labelFontWeight": "bold", "titleFontSize": 12, "titleFontWeight": "bold", "tickSize": 3, "labelPadding": 1, "titlePadding": -1}}}},
      {"data": {"values": [{"pos": 31.41, "label": "2"}]}, "mark": {"type": "text", "font": "Lato", "fontSize": 12, "fontWeight": "bold", "color": "#111"},
       "encoding": {
         "x": {"field": "pos", "type": "quantitative", "scale": {"domain": [31.3827, 31.4373], "nice": false, "zero": false}},
         "y": {"datum": 1064, "type": "quantitative", "scale": {"domain": [-55, 740], "nice": false, "zero": false},
           "axis": {"title": "Depth", "values": [0, 200, 400, 600], "labelOverlap": false, "labelFontSize": 9.5, "labelFontWeight": "bold", "titleFontSize": 12, "titleFontWeight": "bold", "tickSize": 3, "labelPadding": 1, "titlePadding": -1}},
         "text": {"field": "label"}}},
      {"data": {"values": [{"pos": 31.3742, "label": "b)"}]}, "mark": {"type": "text", "font": "Lato", "fontSize": 23, "fontWeight": "bold", "color": "#111", "align": "left", "baseline": "middle"},
       "encoding": {
         "x": {"field": "pos", "type": "quantitative", "scale": {"domain": [31.3827, 31.4373], "nice": false, "zero": false}},
         "y": {"datum": 943, "type": "quantitative", "scale": {"domain": [-55, 740], "nice": false, "zero": false},
           "axis": {"title": "Depth", "values": [0, 200, 400, 600], "labelOverlap": false, "labelFontSize": 9.5, "labelFontWeight": "bold", "titleFontSize": 12, "titleFontWeight": "bold", "tickSize": 3, "labelPadding": 1, "titlePadding": -1}},
         "text": {"field": "label"}}}
    ]
  },
  {
    "width": 142, "height": 86,
    "title": {"text": "qPCR copy # (copies/ul ) – 2569", "subtitle": "Depth of Cov. at qPCR Probe - 372", "orient": "bottom", "anchor": "middle", "font": "Lato", "fontSize": 11, "fontWeight": "bold", "color": "#111", "subtitleFont": "Lato", "subtitleFontSize": 11, "subtitleFontWeight": "bold", "subtitleColor": "#111", "subtitlePadding": 5, "offset": 3},
    "layer": [
      {"data": {"name": "p3"}, "mark": {"type": "line", "color": "black", "strokeWidth": 1.2},
       "encoding": {
         "x": {"field": "pos", "type": "quantitative", "scale": {"domain": [31.6527, 31.7073], "nice": false, "zero": false},
           "axis": {"title": "Position (10⁶)", "values": [31.655, 31.68, 31.705], "labelExpr": "datum.value < 31.67 ? '31.65' : datum.value > 31.69 ? '31.70' : '31.68'", "labelFontSize": 9.5, "labelFontWeight": "bold", "titleFontSize": 14, "titleFontWeight": "bold", "tickSize": 3, "labelPadding": 2, "titlePadding": 3}},
         "y": {"field": "depth", "type": "quantitative", "scale": {"domain": [-55, 740], "nice": false, "zero": false},
           "axis": {"title": "Depth", "values": [0, 200, 400, 600], "labelOverlap": false, "labelFontSize": 9.5, "labelFontWeight": "bold", "titleFontSize": 12, "titleFontWeight": "bold", "tickSize": 3, "labelPadding": 1, "titlePadding": -1}}}},
      {"data": {"values": [{"pos": 31.6562}, {"pos": 31.6642}, {"pos": 31.6719}, {"pos": 31.6881}, {"pos": 31.6965}, {"pos": 31.7046}]}, "mark": {"type": "rule", "color": "#333", "strokeDash": [1.5, 2], "strokeWidth": 1},
       "encoding": {"x": {"field": "pos", "type": "quantitative", "scale": {"domain": [31.6527, 31.7073], "nice": false, "zero": false}}}},
      {"data": {"values": [{"pos": 31.68}]}, "mark": {"type": "rule", "color": "#111", "strokeDash": [5, 3], "strokeWidth": 1.4},
       "encoding": {"x": {"field": "pos", "type": "quantitative", "scale": {"domain": [31.6527, 31.7073], "nice": false, "zero": false}}}},
      {"data": {"values": [{"pos": 31.68, "depth": 322}]}, "mark": {"type": "point", "shape": "circle", "size": 70, "color": "#ff2a1a", "strokeWidth": 2, "filled": false, "opacity": 1},
       "encoding": {
         "x": {"field": "pos", "type": "quantitative", "scale": {"domain": [31.6527, 31.7073], "nice": false, "zero": false}},
         "y": {"field": "depth", "type": "quantitative", "scale": {"domain": [-55, 740], "nice": false, "zero": false},
           "axis": {"title": "Depth", "values": [0, 200, 400, 600], "labelOverlap": false, "labelFontSize": 9.5, "labelFontWeight": "bold", "titleFontSize": 12, "titleFontWeight": "bold", "tickSize": 3, "labelPadding": 1, "titlePadding": -1}}}},
      {"data": {"values": [{"pos": 31.6562}, {"pos": 31.6642}, {"pos": 31.6719}, {"pos": 31.68}, {"pos": 31.6881}, {"pos": 31.6965}, {"pos": 31.7046}]}, "mark": {"type": "point", "shape": "triangle-down", "size": 55, "filled": true, "fill": "#33cc33", "stroke": "#1d5e1d", "strokeWidth": 0.8, "opacity": 1},
       "encoding": {
         "x": {"field": "pos", "type": "quantitative", "scale": {"domain": [31.6527, 31.7073], "nice": false, "zero": false}},
         "y": {"datum": 778, "type": "quantitative", "scale": {"domain": [-55, 740], "nice": false, "zero": false},
           "axis": {"title": "Depth", "values": [0, 200, 400, 600], "labelOverlap": false, "labelFontSize": 9.5, "labelFontWeight": "bold", "titleFontSize": 12, "titleFontWeight": "bold", "tickSize": 3, "labelPadding": 1, "titlePadding": -1}}}},
      {"data": {"values": [{"pos": 31.68}]}, "mark": {"type": "point", "shape": "M -0.38 -1 L 0.38 -1 L 0.38 0.05 L 0.95 0.05 L 0 1 L -0.95 0.05 L -0.38 0.05 Z", "size": 324, "filled": true, "fill": "#dedede", "stroke": "#444", "strokeWidth": 1, "opacity": 1},
       "encoding": {
         "x": {"field": "pos", "type": "quantitative", "scale": {"domain": [31.6527, 31.7073], "nice": false, "zero": false}},
         "y": {"datum": 888, "type": "quantitative", "scale": {"domain": [-55, 740], "nice": false, "zero": false},
           "axis": {"title": "Depth", "values": [0, 200, 400, 600], "labelOverlap": false, "labelFontSize": 9.5, "labelFontWeight": "bold", "titleFontSize": 12, "titleFontWeight": "bold", "tickSize": 3, "labelPadding": 1, "titlePadding": -1}}}},
      {"data": {"values": [{"pos": 31.68, "label": "3"}]}, "mark": {"type": "text", "font": "Lato", "fontSize": 12, "fontWeight": "bold", "color": "#111"},
       "encoding": {
         "x": {"field": "pos", "type": "quantitative", "scale": {"domain": [31.6527, 31.7073], "nice": false, "zero": false}},
         "y": {"datum": 1064, "type": "quantitative", "scale": {"domain": [-55, 740], "nice": false, "zero": false},
           "axis": {"title": "Depth", "values": [0, 200, 400, 600], "labelOverlap": false, "labelFontSize": 9.5, "labelFontWeight": "bold", "titleFontSize": 12, "titleFontWeight": "bold", "tickSize": 3, "labelPadding": 1, "titlePadding": -1}},
         "text": {"field": "label"}}}
    ]
  },
  {
    "width": 142, "height": 86,
    "title": {"text": "qPCR copy # (copies/ul ) – 1010", "subtitle": "Depth of Cov. at qPCR Probe - 95", "orient": "bottom", "anchor": "middle", "font": "Lato", "fontSize": 11, "fontWeight": "bold", "color": "#111", "subtitleFont": "Lato", "subtitleFontSize": 11, "subtitleFontWeight": "bold", "subtitleColor": "#111", "subtitlePadding": 5, "offset": 3},
    "layer": [
      {"data": {"name": "p5"}, "mark": {"type": "line", "color": "black", "strokeWidth": 1.2},
       "encoding": {
         "x": {"field": "pos", "type": "quantitative", "scale": {"domain": [32.9027, 32.9573], "nice": false, "zero": false},
           "axis": {"title": "Position (10⁶)", "values": [32.905, 32.93, 32.955], "labelExpr": "datum.value < 32.92 ? '32.91' : datum.value > 32.94 ? '32.96' : '32.93'", "labelFontSize": 9.5, "labelFontWeight": "bold", "titleFontSize": 14, "titleFontWeight": "bold", "tickSize": 3, "labelPadding": 2, "titlePadding": 3}},
         "y": {"field": "depth", "type": "quantitative", "scale": {"domain": [-55, 740], "nice": false, "zero": false},
           "axis": {"title": "Depth", "values": [0, 200, 400, 600], "labelOverlap": false, "labelFontSize": 9.5, "labelFontWeight": "bold", "titleFontSize": 12, "titleFontWeight": "bold", "tickSize": 3, "labelPadding": 1, "titlePadding": -1}}}},
      {"data": {"values": [{"pos": 32.9088}, {"pos": 32.9173}, {"pos": 32.923}, {"pos": 32.9335}, {"pos": 32.9419}, {"pos": 32.9488}]}, "mark": {"type": "rule", "color": "#333", "strokeDash": [1.5, 2], "strokeWidth": 1},
       "encoding": {"x": {"field": "pos", "type": "quantitative", "scale": {"domain": [32.9027, 32.9573], "nice": false, "zero": false}}}},
      {"data": {"values": [{"pos": 32.93}]}, "mark": {"type": "rule", "color": "#111", "strokeDash": [5, 3], "strokeWidth": 1.4},
       "encoding": {"x": {"field": "pos", "type": "quantitative", "scale": {"domain": [32.9027, 32.9573], "nice": false, "zero": false}}}},
      {"data": {"values": [{"pos": 32.93, "depth": 83}]}, "mark": {"type": "point", "shape": "circle", "size": 70, "color": "#ff2a1a", "strokeWidth": 2, "filled": false, "opacity": 1},
       "encoding": {
         "x": {"field": "pos", "type": "quantitative", "scale": {"domain": [32.9027, 32.9573], "nice": false, "zero": false}},
         "y": {"field": "depth", "type": "quantitative", "scale": {"domain": [-55, 740], "nice": false, "zero": false},
           "axis": {"title": "Depth", "values": [0, 200, 400, 600], "labelOverlap": false, "labelFontSize": 9.5, "labelFontWeight": "bold", "titleFontSize": 12, "titleFontWeight": "bold", "tickSize": 3, "labelPadding": 1, "titlePadding": -1}}}},
      {"data": {"values": [{"pos": 32.9088}, {"pos": 32.9173}, {"pos": 32.923}, {"pos": 32.9335}, {"pos": 32.9419}, {"pos": 32.9488}]}, "mark": {"type": "point", "shape": "triangle-down", "size": 55, "filled": true, "fill": "#33cc33", "stroke": "#1d5e1d", "strokeWidth": 0.8, "opacity": 1},
       "encoding": {
         "x": {"field": "pos", "type": "quantitative", "scale": {"domain": [32.9027, 32.9573], "nice": false, "zero": false}},
         "y": {"datum": 778, "type": "quantitative", "scale": {"domain": [-55, 740], "nice": false, "zero": false},
           "axis": {"title": "Depth", "values": [0, 200, 400, 600], "labelOverlap": false, "labelFontSize": 9.5, "labelFontWeight": "bold", "titleFontSize": 12, "titleFontWeight": "bold", "tickSize": 3, "labelPadding": 1, "titlePadding": -1}}}},
      {"data": {"values": [{"pos": 32.93}]}, "mark": {"type": "point", "shape": "M -0.38 -1 L 0.38 -1 L 0.38 0.05 L 0.95 0.05 L 0 1 L -0.95 0.05 L -0.38 0.05 Z", "size": 324, "filled": true, "fill": "#dedede", "stroke": "#444", "strokeWidth": 1, "opacity": 1},
       "encoding": {
         "x": {"field": "pos", "type": "quantitative", "scale": {"domain": [32.9027, 32.9573], "nice": false, "zero": false}},
         "y": {"datum": 888, "type": "quantitative", "scale": {"domain": [-55, 740], "nice": false, "zero": false},
           "axis": {"title": "Depth", "values": [0, 200, 400, 600], "labelOverlap": false, "labelFontSize": 9.5, "labelFontWeight": "bold", "titleFontSize": 12, "titleFontWeight": "bold", "tickSize": 3, "labelPadding": 1, "titlePadding": -1}}}},
      {"data": {"values": [{"pos": 32.93, "label": "5"}]}, "mark": {"type": "text", "font": "Lato", "fontSize": 12, "fontWeight": "bold", "color": "#111"},
       "encoding": {
         "x": {"field": "pos", "type": "quantitative", "scale": {"domain": [32.9027, 32.9573], "nice": false, "zero": false}},
         "y": {"datum": 1064, "type": "quantitative", "scale": {"domain": [-55, 740], "nice": false, "zero": false},
           "axis": {"title": "Depth", "values": [0, 200, 400, 600], "labelOverlap": false, "labelFontSize": 9.5, "labelFontWeight": "bold", "titleFontSize": 12, "titleFontWeight": "bold", "tickSize": 3, "labelPadding": 1, "titlePadding": -1}},
         "text": {"field": "label"}}}
    ]
  }
  ],
  "bounds": "flush",
  "spacing": 48
}
]
}
